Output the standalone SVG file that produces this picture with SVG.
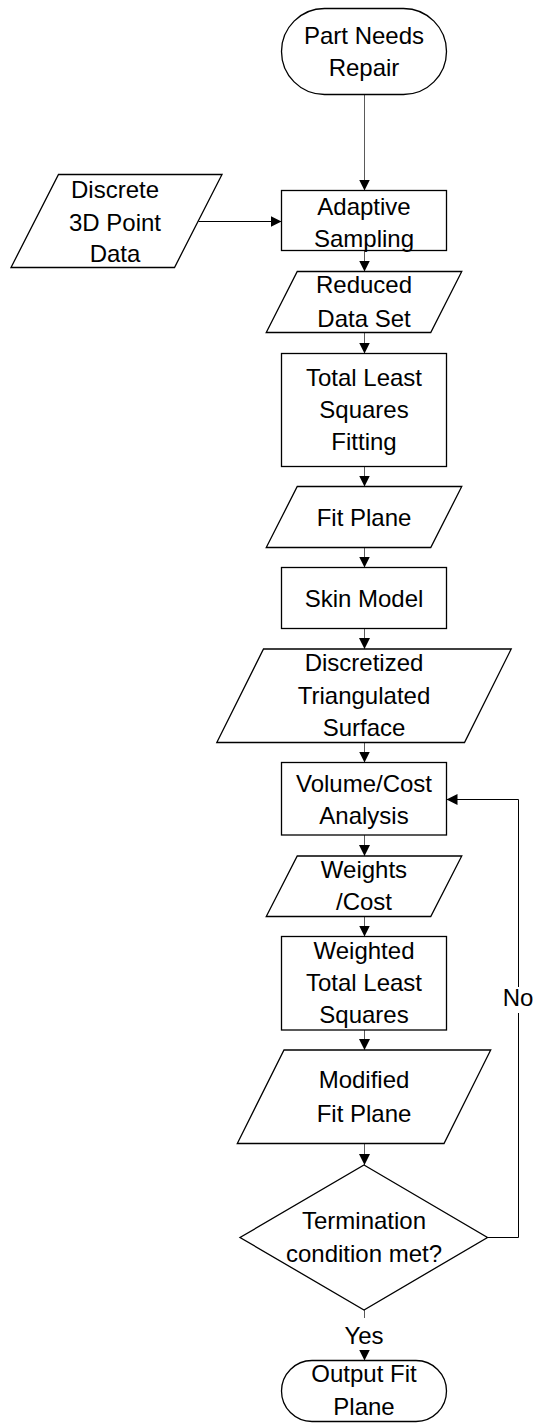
<svg xmlns="http://www.w3.org/2000/svg" width="535" height="1423" viewBox="0 0 535 1423">
<style>
.n{fill:#fff;stroke:#000;stroke-width:1.3}
.t{font-family:"Liberation Sans",Arial,sans-serif;font-size:24px;fill:#000;text-anchor:middle}
.c{fill:none;stroke:#000;stroke-width:1}
.cv{fill:none;stroke:#5a5a5a;stroke-width:1}
.lb{fill:#fff;stroke:none}
</style>
<defs>
<marker id="ah" markerUnits="userSpaceOnUse" markerWidth="11" markerHeight="11" refX="11" refY="5.5" orient="auto" viewBox="0 0 11 11">
<path d="M0,0 L11,5.5 L0,11 Z" fill="#000"/>
</marker>
</defs>
<rect width="535" height="1423" fill="#fff"/>
<g id="connectors">
<line class="cv" x1="364.5" y1="94.5" x2="364.5" y2="190.5" marker-end="url(#ah)"/>
<line class="c" x1="198.5" y1="221.5" x2="281.5" y2="221.5" marker-end="url(#ah)"/>
<line class="cv" x1="364.5" y1="250.5" x2="364.5" y2="271.5" marker-end="url(#ah)"/>
<line class="cv" x1="364.5" y1="332.5" x2="364.5" y2="353.5" marker-end="url(#ah)"/>
<line class="cv" x1="364.5" y1="466.5" x2="364.5" y2="486.5" marker-end="url(#ah)"/>
<line class="cv" x1="364.5" y1="547.5" x2="364.5" y2="567.5" marker-end="url(#ah)"/>
<line class="cv" x1="364.5" y1="628.5" x2="364.5" y2="649" marker-end="url(#ah)"/>
<line class="cv" x1="364.5" y1="742.5" x2="364.5" y2="762.5" marker-end="url(#ah)"/>
<line class="cv" x1="364.5" y1="835" x2="364.5" y2="856" marker-end="url(#ah)"/>
<line class="cv" x1="364.5" y1="916.5" x2="364.5" y2="936.5" marker-end="url(#ah)"/>
<line class="cv" x1="364.5" y1="1030" x2="364.5" y2="1050" marker-end="url(#ah)"/>
<line class="cv" x1="364.5" y1="1143.5" x2="364.5" y2="1165" marker-end="url(#ah)"/>
<line class="cv" x1="364.5" y1="1310" x2="364.5" y2="1360.5" marker-end="url(#ah)"/>
<polyline class="c" points="487.5,1237.5 518.5,1237.5 518.5,799.5 446.5,799.5" marker-end="url(#ah)"/>
<g id="label-no">
<rect class="lb" x="503" y="987" width="31" height="26"/>
<text class="t" x="518" y="1006">No</text>
</g>
<g id="label-yes">
<rect class="lb" x="344" y="1318" width="40" height="32"/>
<text class="t" x="364" y="1344">Yes</text>
</g>
</g>
<g id="start">
<rect class="n" x="281.5" y="8.5" width="165" height="86" rx="43" ry="43"/>
<text class="t" x="364" y="43.5">Part Needs</text>
<text class="t" x="364" y="76">Repair</text>
</g>
<g id="discrete">
<polygon class="n" points="58.5,174.5 222,174.5 174.5,267.5 11,267.5"/>
<text class="t" x="115" y="198">Discrete</text>
<text class="t" x="115" y="231">3D Point</text>
<text class="t" x="115" y="262">Data</text>
</g>
<g id="adaptive">
<rect class="n" x="281.5" y="190.5" width="165" height="60"/>
<text class="t" x="364" y="215">Adaptive</text>
<text class="t" x="364" y="246.5">Sampling</text>
</g>
<g id="reduced">
<polygon class="n" points="297.25,271.5 461.75,271.5 430.75,332.5 266.25,332.5"/>
<text class="t" x="364" y="293">Reduced</text>
<text class="t" x="364" y="327">Data Set</text>
</g>
<g id="tls">
<rect class="n" x="281.5" y="353.5" width="165" height="113"/>
<text class="t" x="364" y="386">Total Least</text>
<text class="t" x="364" y="418">Squares</text>
<text class="t" x="364" y="450">Fitting</text>
</g>
<g id="fitplane">
<polygon class="n" points="297.25,486.5 461.75,486.5 430.75,547.5 266.25,547.5"/>
<text class="t" x="364" y="526">Fit Plane</text>
</g>
<g id="skin">
<rect class="n" x="281.5" y="567.5" width="165" height="61"/>
<text class="t" x="364" y="607">Skin Model</text>
</g>
<g id="discretized">
<polygon class="n" points="263.5,649 511.2,649 464.5,742.5 216.8,742.5"/>
<text class="t" x="364" y="671">Discretized</text>
<text class="t" x="364" y="703.5">Triangulated</text>
<text class="t" x="364" y="736">Surface</text>
</g>
<g id="volume">
<rect class="n" x="281.5" y="762.5" width="165" height="72.5"/>
<text class="t" x="364" y="791.5">Volume/Cost</text>
<text class="t" x="364" y="823.5">Analysis</text>
</g>
<g id="weights">
<polygon class="n" points="297.25,856 461.75,856 430.75,916.5 266.25,916.5"/>
<text class="t" x="364" y="878">Weights</text>
<text class="t" x="364" y="910">/Cost</text>
</g>
<g id="wtls">
<rect class="n" x="281.5" y="936.5" width="165" height="93.5"/>
<text class="t" x="364" y="959">Weighted</text>
<text class="t" x="364" y="991">Total Least</text>
<text class="t" x="364" y="1023">Squares</text>
</g>
<g id="modified">
<polygon class="n" points="284,1050 490.7,1050 444,1143.5 237.3,1143.5"/>
<text class="t" x="364" y="1088">Modified</text>
<text class="t" x="364" y="1121.5">Fit Plane</text>
</g>
<g id="decision">
<polygon class="n" points="364,1165 487.5,1237.5 364,1310 240,1237.5"/>
<text class="t" x="364" y="1228.5">Termination</text>
<text class="t" x="364" y="1261.5">condition met?</text>
</g>
<g id="end">
<rect class="n" x="281.5" y="1360.5" width="165" height="61" rx="30.5" ry="30.5"/>
<text class="t" x="364" y="1381.5">Output Fit</text>
<text class="t" x="364" y="1415">Plane</text>
</g>
</svg>
